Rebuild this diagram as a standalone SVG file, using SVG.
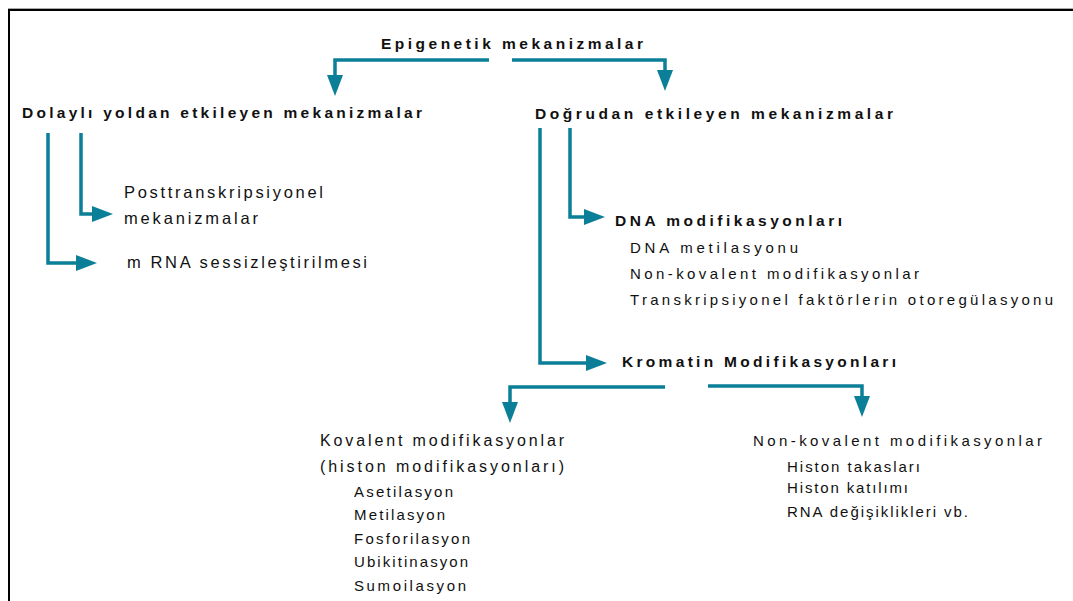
<svg xmlns="http://www.w3.org/2000/svg" width="1073" height="601" viewBox="0 0 1073 601">
<defs>
<marker id="ah" viewBox="0 0 21 16" refX="1" refY="8" markerWidth="21" markerHeight="16" markerUnits="userSpaceOnUse" orient="auto">
<path d="M0,0 L21,8 L0,16 z" fill="#0b7f97"/>
</marker>
<style>
text{font-family:"Liberation Sans",Arial,sans-serif;fill:#111;}
.b{font-weight:bold;font-size:15.5px;}
.r{font-size:15px;}
.c{fill:none;stroke:#0b7f97;stroke-width:3.5;marker-end:url(#ah);}
</style>
</defs>
<rect width="1073" height="601" fill="#fff"/>
<g id="frame">
<line x1="8" y1="8.5" x2="1073" y2="8.5" stroke="#aaa" stroke-width="1"/>
<line x1="8" y1="10" x2="1073" y2="10" stroke="#000" stroke-width="2"/>
<line x1="9" y1="9" x2="9" y2="601" stroke="#000" stroke-width="2"/>
</g>
<g id="connectors">
<path class="c" d="M489,60 H335 V76"/>
<path class="c" d="M512,60 H665 V71"/>
<path class="c" d="M48,133 V263 H77"/>
<path class="c" d="M81,133 V214 H93"/>
<path class="c" d="M540,128 V363 H587"/>
<path class="c" d="M570,128 V217 H585"/>
<path class="c" d="M665,387 H510 V403"/>
<path class="c" d="M708,386 H862 V397"/>
</g>
<g id="root"><text class="b" x="381" y="49" textLength="262" lengthAdjust="spacing">Epigenetik mekanizmalar</text></g>
<g id="indirect"><text class="b" x="22" y="118" textLength="400" lengthAdjust="spacing">Dolaylı yoldan etkileyen mekanizmalar</text></g>
<g id="direct"><text class="b" x="535" y="119" textLength="358" lengthAdjust="spacing">Doğrudan etkileyen mekanizmalar</text></g>
<g id="posttranscriptional">
<text class="r" style="font-size:16.5px" x="124" y="198" textLength="199" lengthAdjust="spacing">Posttranskripsiyonel</text>
<text class="r" style="font-size:16.5px" x="124" y="224" textLength="134" lengthAdjust="spacing">mekanizmalar</text>
</g>
<g id="mrna"><text class="r" style="font-size:16.5px" x="127" y="268" textLength="240" lengthAdjust="spacing">m RNA sessizleştirilmesi</text></g>
<g id="dna">
<text class="b" x="615" y="226" textLength="227" lengthAdjust="spacing">DNA modifikasyonları</text>
<text class="r" x="630" y="253" textLength="168" lengthAdjust="spacing">DNA metilasyonu</text>
<text class="r" x="630" y="279" textLength="289" lengthAdjust="spacing">Non-kovalent modifikasyonlar</text>
<text class="r" x="630" y="305" textLength="423" lengthAdjust="spacing">Transkripsiyonel faktörlerin otoregülasyonu</text>
</g>
<g id="chromatin"><text class="b" x="622" y="367" textLength="274" lengthAdjust="spacing">Kromatin Modifikasyonları</text></g>
<g id="covalent">
<text class="r" style="font-size:16px" x="320" y="446" textLength="244" lengthAdjust="spacing">Kovalent modifikasyonlar</text>
<text class="r" style="font-size:16px" x="320" y="472" textLength="244" lengthAdjust="spacing">(histon modifikasyonları)</text>
<text class="r" x="354" y="497" textLength="99" lengthAdjust="spacing">Asetilasyon</text>
<text class="r" x="354" y="520" textLength="91" lengthAdjust="spacing">Metilasyon</text>
<text class="r" x="354" y="544" textLength="116" lengthAdjust="spacing">Fosforilasyon</text>
<text class="r" x="354" y="567" textLength="114" lengthAdjust="spacing">Ubikitinasyon</text>
<text class="r" x="354" y="591" textLength="112" lengthAdjust="spacing">Sumoilasyon</text>
</g>
<g id="noncovalent">
<text class="r" x="753" y="446" textLength="289" lengthAdjust="spacing">Non-kovalent modifikasyonlar</text>
<text class="r" x="787" y="472" textLength="133" lengthAdjust="spacing">Histon takasları</text>
<text class="r" x="787" y="493" textLength="121" lengthAdjust="spacing">Histon katılımı</text>
<text class="r" x="787" y="517" textLength="181" lengthAdjust="spacing">RNA değişiklikleri vb.</text>
</g>
</svg>
